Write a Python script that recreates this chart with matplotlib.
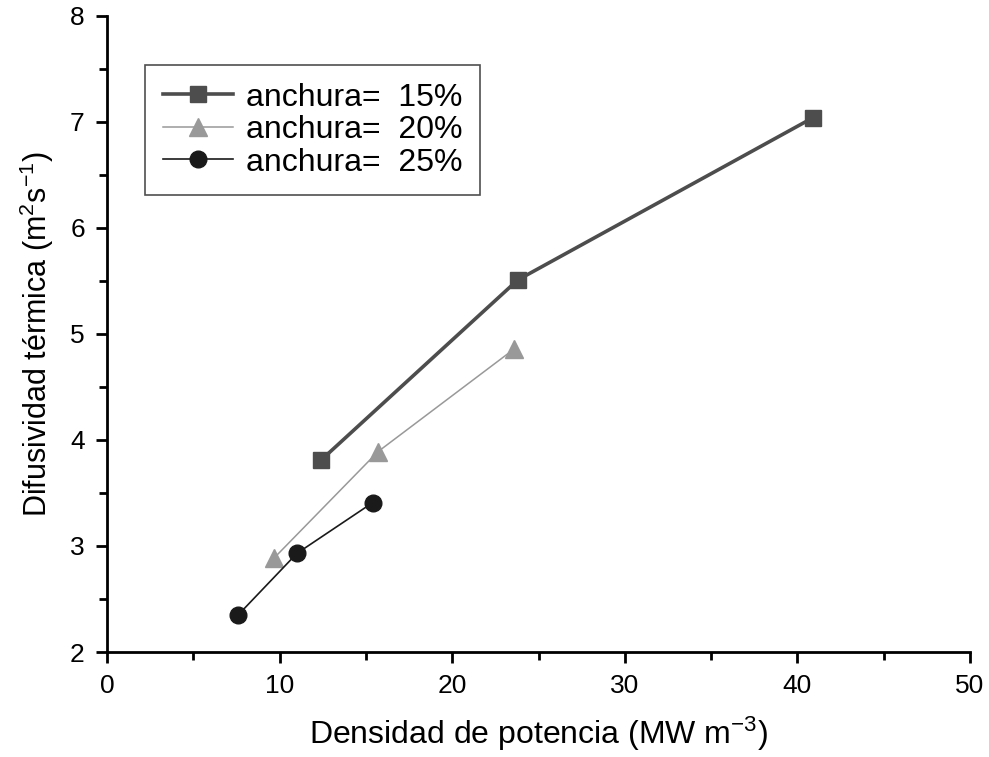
import matplotlib
matplotlib.use("Agg")
import matplotlib.pyplot as plt
from matplotlib.ticker import MultipleLocator

plt.rcParams['font.family'] = ['Liberation Sans', 'DejaVu Sans']
plt.rcParams['mathtext.default'] = 'regular'
plt.rcParams['axes.unicode_minus'] = False

# datos
x_15 = [12.4, 23.8, 40.9]
y_15 = [3.81, 5.51, 7.04]
x_20 = [9.7, 15.7, 23.6]
y_20 = [2.89, 3.89, 4.86]
x_25 = [7.6, 11.0, 15.4]
y_25 = [2.35, 2.93, 3.41]

labels = ['anchura=  15%', 'anchura=  20%', 'anchura=  25%']

fig = plt.figure(figsize=(9.89, 7.57), dpi=100)
ax = fig.add_axes([0.1082, 0.1387, 0.8726, 0.8402])

ax.plot(x_15, y_15, color='#4d4d4d', lw=2.6, marker='s', ms=11, label=labels[0])
ax.plot(x_20, y_20, color='#999999', lw=1.1, marker='^', ms=13, label=labels[1])
ax.plot(x_25, y_25, color='#1a1a1a', lw=1.2, marker='o', ms=12, label=labels[2])

ax.set_xlim(0, 50)
ax.set_ylim(2, 8)
ax.xaxis.set_major_locator(MultipleLocator(10))
ax.xaxis.set_minor_locator(MultipleLocator(5))
ax.yaxis.set_major_locator(MultipleLocator(1))
ax.yaxis.set_minor_locator(MultipleLocator(0.5))

ax.spines['top'].set_visible(False)
ax.spines['right'].set_visible(False)
ax.spines['left'].set_linewidth(2)
ax.spines['bottom'].set_linewidth(2)
ax.tick_params(which='major', direction='out', length=8, width=2, labelsize=19, pad=8)
ax.tick_params(which='minor', direction='out', length=6, width=2)

ax.set_xlabel('Densidad de potencia (MW m$^{-3}$)', fontsize=23, labelpad=12)
ax.set_ylabel('Difusividad térmica (m$^{2}$s$^{-1}$)', fontsize=22, labelpad=10)

leg = ax.legend(loc='upper left', bbox_to_anchor=(0.044, 0.923), fontsize=23,
                frameon=True, fancybox=False, edgecolor='#222222',
                handlelength=2.2, handletextpad=0.4, labelspacing=0.08,
                borderpad=0.55, borderaxespad=0)
leg.get_frame().set_linewidth(1.2)

fig.savefig('out.png', dpi=100)
